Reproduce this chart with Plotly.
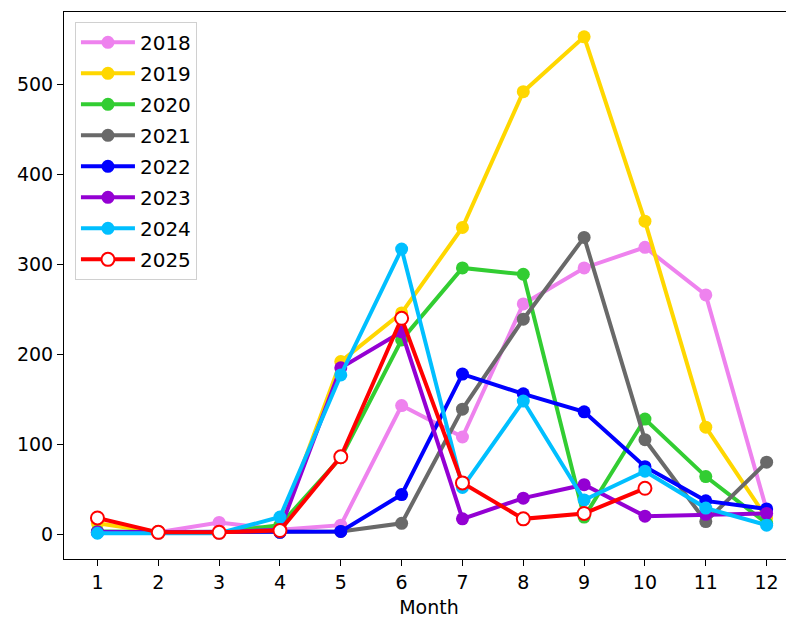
import plotly.graph_objects as go

months = list(range(1, 13))

y2018 = [3, 2, 13, 5, 10, 143, 108, 256, 296, 319, 266, 27]
y2019 = [12, 2, 2, 8, 192, 246, 341, 492, 553, 348, 119, 18]
y2020 = [3, 3, 2, 10, 85, 216, 296, 289, 19, 128, 64, 12]
y2021 = [2, 2, 2, 2, 3, 12, 139, 239, 330, 105, 14, 80]
y2022 = [2, 2, 2, 2, 3, 44, 178, 156, 136, 75, 37, 28]
y2023 = [2, 2, 2, 5, 185, 225, 17, 40, 55, 20, 22, 23]
y2024 = [1, 1, 1, 19, 177, 317, 52, 148, 38, 70, 29, 10]
y2025 = [18, 2, 2, 4, 86, 240, 57, 17, 23, 51]

series = [
    ("2018", y2018, "#EE82EE"),
    ("2019", y2019, "#FFD700"),
    ("2020", y2020, "#32CD32"),
    ("2021", y2021, "#696969"),
    ("2022", y2022, "#0000FF"),
    ("2023", y2023, "#9400D3"),
    ("2024", y2024, "#00BFFF"),
]

fig = go.Figure()

for name, vals, color in series:
    fig.add_trace(go.Scatter(
        name=name,
        x=months[:len(vals)],
        y=vals,
        mode="lines+markers",
        legendgroup=name,
        line=dict(color=color, width=4),
        marker=dict(size=13, color=color),
    ))

# 2025 is partial and drawn with hollow markers
fig.add_trace(go.Scatter(
    name="2025",
    x=months[:len(y2025)],
    y=y2025,
    mode="lines+markers",
    legendgroup="2025",
    line=dict(color="#FF0000", width=4),
    marker=dict(size=13, color="white", line=dict(color="#FF0000", width=2)),
))

# page body has an 8px margin, so the figure is shrunk by that amount
fig.update_layout(
    width=786,
    height=613,
    plot_bgcolor="white",
    paper_bgcolor="white",
    font=dict(family="DejaVu Sans", size=19, color="black"),
    margin=dict(l=56, r=0, t=4, b=62, autoexpand=False),
    showlegend=True,
    legend=dict(
        x=0.015, y=0.982, xanchor="left", yanchor="top",
        bgcolor="rgba(255,255,255,0.8)",
        bordercolor="#d0d0d0", borderwidth=1,
        font=dict(size=20),
        tracegroupgap=2,
        traceorder="grouped",
        itemwidth=54,
    ),
    xaxis=dict(
        range=[0.45, 12.45],
        tickmode="array",
        tickvals=months,
        ticks="outside", ticklen=6, tickcolor="black",
        showline=True, linecolor="black", linewidth=1, mirror=True,
        showgrid=False, zeroline=False, automargin=False,
        title=dict(text="Month", standoff=8, font=dict(size=19)),
    ),
    yaxis=dict(
        range=[-27.65, 580.65],
        tickmode="array",
        tickvals=[0, 100, 200, 300, 400, 500],
        ticks="outside", ticklen=6, tickcolor="black",
        showline=True, linecolor="black", linewidth=1,
        showgrid=False, zeroline=False, automargin=False,
    ),
)

fig.write_html("out.html")
